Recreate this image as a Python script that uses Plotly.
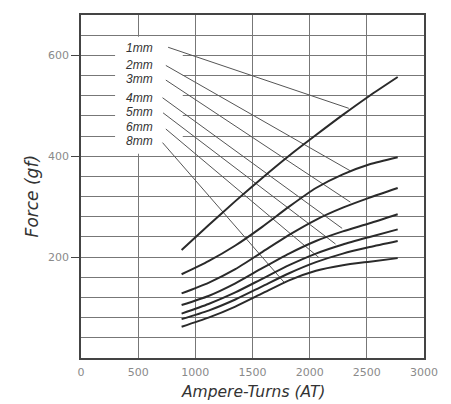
import plotly.graph_objects as go

# ---- data ----
gaps = ["1mm", "2mm", "3mm", "4mm", "5mm", "6mm", "8mm"]
ampere_turns = [880, 1115, 1350, 1585, 1820, 2055, 2290, 2525, 2770]
force_1mm = [214, 263, 311, 357, 401, 442, 482, 520, 557]
force_2mm = [166, 192, 223, 260, 300, 337, 364, 384, 398]
force_3mm = [128, 149, 176, 210, 244, 274, 298, 318, 337]
force_4mm = [105, 123, 148, 178, 207, 232, 251, 267, 285]
force_5mm = [88, 107, 130, 157, 184, 207, 225, 240, 255]
force_6mm = [77, 94, 116, 142, 168, 190, 207, 220, 232]
force_8mm = [62, 80, 102, 128, 154, 173, 184, 191, 198]
series = [force_1mm, force_2mm, force_3mm, force_4mm, force_5mm, force_6mm, force_8mm]

# label anchor (right edge) and leader lines (start -> point on curve)
label_x = 650
label_y = [614, 581, 553, 516, 488, 458, 430]
leader_x0 = [762, 742, 742, 713, 718, 742, 713]
leader_y0 = [616, 580, 551, 516, 486, 454, 427]
leader_x1 = [2342, 2356, 2356, 2284, 2226, 2081, 1777]
leader_y1 = [495, 371, 309, 257, 226, 199, 150]

x_ticks = [0, 500, 1000, 1500, 2000, 2500, 3000]
y_ticks = [200, 400, 600]

fig = go.Figure()

# label background box covering gridlines
fig.add_shape(type="rect", x0=298, x1=890, y0=405, y1=637,
              fillcolor="white", line=dict(width=0), layer="between")

for i, g in enumerate(gaps):
    fig.add_trace(go.Scatter(
        x=[leader_x0[i], leader_x1[i]], y=[leader_y0[i], leader_y1[i]],
        mode="lines", line=dict(color="#555555", width=1),
        showlegend=False, hoverinfo="skip"))

for i, g in enumerate(gaps):
    fig.add_trace(go.Scatter(
        x=ampere_turns, y=series[i], name=g, mode="lines",
        line=dict(color="#2a2a2a", width=2, shape="spline", smoothing=0.6),
        showlegend=False))
    fig.add_annotation(x=label_x, y=label_y[i], text=g, showarrow=False,
                       xanchor="right", yanchor="middle",
                       font=dict(family="Liberation Sans", size=12, color="#333333", style="italic"))

fig.update_xaxes(range=[0, 3000], tickvals=x_ticks, showgrid=True,
                 gridcolor="#777777", gridwidth=1, ticks="",
                 showline=True, linecolor="#444444", linewidth=1.5, mirror=True,
                 zeroline=False, ticklabelstandoff=3,
                 tickfont=dict(family="DejaVu Sans", size=11, color="#8a8a8a"))
fig.update_yaxes(range=[0, 680], tickvals=y_ticks, showgrid=True,
                 gridcolor="#777777", gridwidth=1,
                 ticks="outside", ticklen=8, tickcolor="#444444",
                 minor=dict(dtick=40, tick0=0, showgrid=True, gridcolor="#777777", gridwidth=1, ticks=""),
                 showline=True, linecolor="#444444", linewidth=1.5, mirror=True,
                 zeroline=False,
                 tickfont=dict(family="DejaVu Sans", size=11, color="#8a8a8a"))

fig.add_annotation(xref="paper", yref="paper", x=-0.144, y=0.47, text="Force (gf)",
                   textangle=-90, showarrow=False, xanchor="center", yanchor="middle",
                   font=dict(family="DejaVu Sans", size=17, color="#333333", style="italic"))
fig.add_annotation(xref="paper", yref="paper", x=0.5, y=-0.1, text="Ampere-Turns (AT)",
                   showarrow=False, xanchor="center", yanchor="middle",
                   font=dict(family="DejaVu Sans", size=15.5, color="#333333", style="italic"))

fig.update_layout(width=435, height=396, margin=dict(l=73, r=18, t=5, b=46),
                  plot_bgcolor="white", paper_bgcolor="white")

fig.write_html("out.html")
